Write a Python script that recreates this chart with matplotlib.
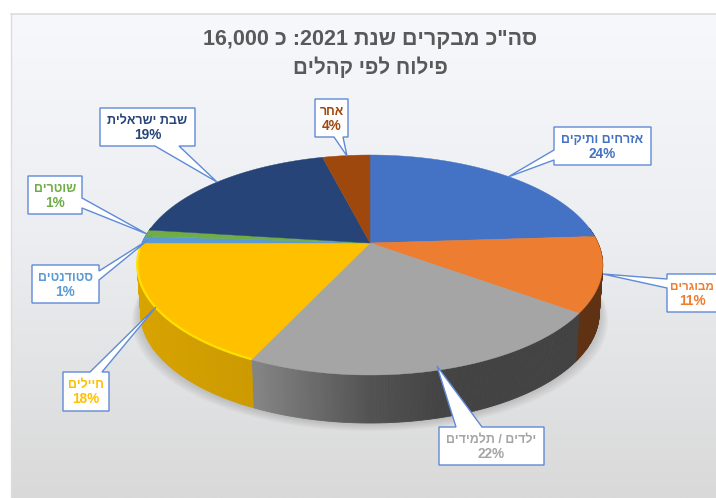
import re
import numpy as np
import matplotlib
matplotlib.use('Agg')
import matplotlib.pyplot as plt
from matplotlib.colors import LinearSegmentedColormap, to_rgb
from matplotlib.patches import Polygon

# data, clockwise from 12 o'clock
categories = ['אזרחים ותיקים', 'מבוגרים', 'ילדים / תלמידים', 'חיילים',
              'סטודנטים', 'שוטרים', 'שבת ישראלית', 'אחר']
values = [24, 11, 22, 18, 1, 1, 19, 4]
slice_colors = ['#4472C4', '#ED7D31', '#A5A5A5', '#FFC000',
                '#5B9BD5', '#70AD47', '#264478', '#9E480E']
title_lines = ['סה"כ מבקרים שנת 2021: כ 16,000', 'פילוח לפי קהלים']

# callouts: box (x0, y0, x1, y1), side the pointer leaves from, base a, tip, base b
callouts = [
    ((554, 127, 651, 165), 'left', (554, 150), (508, 177), (554, 160)),
    ((667, 274, 730, 312), 'left', (667, 279), (603, 274), (667, 288)),
    ((439, 427, 544, 465), 'top', (456, 427), (437, 366), (482, 427)),
    ((63, 372, 109, 411), 'top', (90, 372), (156, 307), (102, 372)),
    ((32, 265, 99, 303), 'right', (99, 271), (148, 240), (99, 280)),
    ((28, 176, 82, 214), 'right', (82, 198), (147, 234), (82, 208)),
    ((100, 108, 195, 146), 'bottom', (155, 146), (217, 182), (179, 146)),
    ((315, 99, 348, 137), 'bottom', (334, 137), (347, 156), (343, 137)),
]

# perspective of the pie
cx, cy = 370, 243
rx, ry = 228, 105.6
persp = 0.2
depth = 48

plt.rcParams['font.family'] = ['Liberation Sans', 'DejaVu Sans']


def visual(text):
    # matplotlib has no bidi, so flip the string and put number runs back
    flipped = text[::-1]
    return re.sub(r'[\d,]+', lambda m: m.group(0)[::-1], flipped)


def project(theta, extrude=0.0):
    # theta in radians, circle -> screen pixels
    X, Y = np.cos(theta), np.sin(theta)
    den = 1 + persp * Y
    scale = 1 - 0.015 * extrude
    return cx + scale * rx * X / den, cy - ry * Y / den + depth * extrude


def side_shade(x):
    return np.interp(x, [137, 255, 370, 440, 603], [0.85, 0.8, 0.5, 0.41, 0.4])


fig = plt.figure(figsize=(7.16, 4.98), dpi=100)
ax = fig.add_axes([0, 0, 1, 1])

# panel background
bg = LinearSegmentedColormap.from_list('bg', [(0, '#F7F8FC'), (0.45, '#ECEEF1'), (1, '#D9D9D9')])
ax.imshow(np.linspace(0, 1, 256).reshape(-1, 1), cmap=bg, extent=(11, 716, 498, 14),
          aspect='auto', zorder=0)
ax.plot([11, 716], [14, 14], color='#DDDDDD', lw=1.2, zorder=1)
ax.plot([11, 11], [14, 498], color='#DDDDDD', lw=1, zorder=1)

# soft shadow under the pie
full = np.linspace(0, 2 * np.pi, 240)
sx, sy = project(full, 1)
for grow in np.linspace(9, 1, 9):
    px = cx + (sx - cx) * (1 + grow / 233)
    py = sy + grow * 0.9
    ax.fill(px, py, color='#808080', alpha=0.045, lw=0, zorder=2)

# slice angles
fractions = np.cumsum([0] + values) / sum(values)
angles = np.pi / 2 - 2 * np.pi * fractions

# side wall
for i, color in enumerate(slice_colors):
    steps = max(3, int(values[i] * 6))
    th = np.linspace(angles[i], angles[i + 1], steps + 1)
    base = np.array(to_rgb(color))
    for a, b in zip(th[:-1], th[1:]):
        if np.sin((a + b) / 2) > 0.15:
            continue
        x0, y0 = project(a)
        x1, y1 = project(b)
        x2, y2 = project(b, 1)
        x3, y3 = project(a, 1)
        col = base * side_shade((x0 + x1) / 2)
        ax.add_patch(Polygon([(x0, y0), (x1, y1), (x2, y2), (x3, y3)], closed=True,
                             facecolor=col, edgecolor=col, lw=0.6, zorder=3))

# top face
for i, color in enumerate(slice_colors):
    th = np.linspace(angles[i], angles[i + 1], 80)
    x, y = project(th)
    ax.fill(np.r_[cx, x], np.r_[cy, y], color=color, lw=0.3, zorder=4)
    # bevel along the front edge, only the yellow one really shows
    front = th[np.sin(th) < -0.05]
    if len(front) > 1 and color == '#FFC000':
        fx, fy = project(front)
        ax.plot(fx, fy - 0.5, color='#FFE000', lw=1.6, zorder=5, solid_capstyle='butt')

# callouts
for (x0, y0, x1, y1), side, a, tip, b in callouts:
    if side == 'left':
        pts = [(x0, y0), (x1, y0), (x1, y1), (x0, y1), b, tip, a]
    elif side == 'right':
        pts = [(x0, y0), (x1, y0), a, tip, b, (x1, y1), (x0, y1)]
    elif side == 'top':
        pts = [(x0, y0), a, tip, b, (x1, y0), (x1, y1), (x0, y1)]
    else:
        pts = [(x0, y0), (x1, y0), (x1, y1), b, tip, a, (x0, y1)]
    ax.add_patch(Polygon(pts, closed=True, facecolor='white', edgecolor='#5F8AD6',
                         lw=1.0, joinstyle='miter', zorder=6))

for (box, *_), name, val, color in zip(callouts, categories, values, slice_colors):
    tx = (box[0] + box[2]) / 2
    name_size = 9
    if name == 'מבוגרים':
        # this box runs off the right edge, keep the text inside the picture
        tx = box[0] + 25
        name_size = 8.5
    ax.text(tx, box[1] + 13, visual(name), color=color, fontsize=name_size, fontweight='bold',
            ha='center', va='center', zorder=7)
    ax.text(tx, box[1] + 27, f'{val}%', color=color, fontsize=9.8, fontweight='bold',
            ha='center', va='center', zorder=7)

# title
ax.text(370, 39, visual(title_lines[0]), color='#595959', fontsize=15.5, fontweight='bold',
        ha='center', va='center', zorder=7)
ax.text(370, 67, visual(title_lines[1]), color='#595959', fontsize=14.8, fontweight='bold',
        ha='center', va='center', zorder=7)

ax.set_xlim(0, 716)
ax.set_ylim(498, 0)
ax.axis('off')
fig.savefig('out.png', dpi=100)
